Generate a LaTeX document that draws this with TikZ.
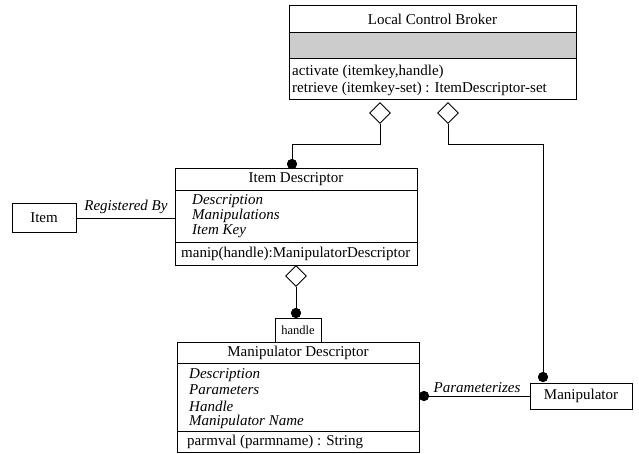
\documentclass[tikz,border=0pt]{standalone}
\usepackage{fontspec}
\setmainfont{Liberation Serif}
\usetikzlibrary{shapes.geometric}
\begin{document}
\begin{tikzpicture}[x=1pt,y=-1pt,
  every node/.style={font=\fontsize{15}{17}\selectfont, inner sep=0pt},
  box/.style={draw, line width=0.9pt, anchor=north west, fill=white},
  ln/.style={line width=0.9pt},
  dia/.style={draw, diamond, line width=0.9pt, fill=white, minimum width=21pt, minimum height=21pt, inner sep=0pt},
  dot/.style={circle, fill=black, minimum size=10pt, inner sep=0pt},
  att/.style={anchor=west, font=\fontsize{15}{17}\selectfont\itshape},
  lbl/.style={font=\fontsize{15}{17}\selectfont\itshape}
]
\useasboundingbox (0,0) rectangle (639,453);

% Local Control Broker
\node[box, minimum width=287pt, minimum height=94pt] (lcb) at (289,5) {};
\fill[gray!40] (289,32) rectangle (576,58);
\draw[ln] (289,32) -- (576,32);
\draw[ln] (289,58) -- (576,58);
\draw[ln] (lcb.north west) rectangle (lcb.south east);
\node (lcbt) at (432.5,19) {Local Control Broker};
\node[anchor=west] (lcbm1) at (292,72) {activate (itemkey,handle)};
\node[anchor=west] (lcbm2) at (292,89) {retrieve (itemkey-set) : ItemDescriptor-set};

% Item Descriptor
\node[box, minimum width=242pt, minimum height=97pt] (id) at (175,168) {};
\draw[ln] (175,190) -- (417,190);
\draw[ln] (175,242) -- (417,242);
\node (idt) at (296,179) {Item Descriptor};
\node[att] (ida1) at (192,201) {Description};
\node[att] (ida2) at (192,216) {Manipulations};
\node[att] (ida3) at (192,231) {Item Key};
\node[anchor=west] (idm) at (181,253.5) {manip(handle):ManipulatorDescriptor};

% Item
\node[box, minimum width=64pt, minimum height=29pt] (item) at (12,203) {};
\node (itemt) at (44,218) {Item};

% handle
\node[box, minimum width=46pt, minimum height=24pt] (hb) at (275,318) {};
\node[font=\fontsize{12.5}{14}\selectfont] (hbt) at (298,330) {handle};

% Manipulator Descriptor
\node[box, minimum width=242pt, minimum height=110pt] (md) at (177,342) {};
\draw[ln] (177,363) -- (419,363);
\draw[ln] (177,431) -- (419,431);
\node (mdt) at (298,352.5) {Manipulator Descriptor};
\node[att] (mda1) at (189,375) {Description};
\node[att] (mda2) at (189,390) {Parameters};
\node[att] (mda3) at (189,406) {Handle};
\node[att] (mda4) at (189,422) {Manipulator Name};
\node[anchor=west] (mdm) at (187,441.5) {parmval (parmname) : String};

% Manipulator
\node[box, minimum width=102pt, minimum height=26pt] (man) at (530,383) {};
\node (mant) at (581,396) {Manipulator};

% connectors
\node[dia] (d1) at (380,113) {};
\node[dia] (d2) at (448,113) {};
\node[dia] (d3) at (296,276) {};
\coordinate (c1) at (292,144);
\coordinate (c2) at (543,144);
\node[dot] (p1) at (292,164) {};
\node[dot] (p2) at (543,377) {};
\node[dot] (p3) at (296,313) {};
\node[dot] (p4) at (424,396) {};

\draw[ln] (d1.south) |- (c1) -- (p1.center);
\draw[ln] (d2.south) |- (c2) -- (p2.center);
\draw[ln] (d3.south) -- (p3.center);
\draw[ln] (p4.center) -- (man.west |- p4) node[lbl, pos=0.5, above=3pt] (lp) {Parameterizes};
\draw[ln] (item.east |- itemt) -- (id.west |- itemt) node[lbl, pos=0.5, above=4pt] (lr) {Registered By};

\node[dot] at (p1) {};
\node[dot] at (p2) {};
\node[dot] at (p3) {};
\node[dot] at (p4) {};
\end{tikzpicture}
\end{document}
